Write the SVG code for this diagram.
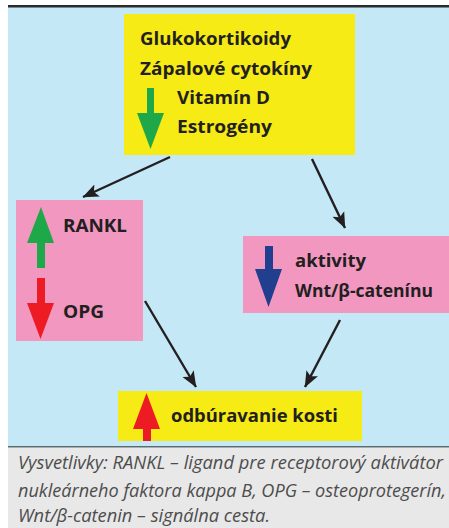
<svg xmlns="http://www.w3.org/2000/svg" width="449" height="528" viewBox="0 0 449 528">
<defs>
<style>
.t{font-family:"Open Sans","Liberation Sans",sans-serif;font-weight:bold;font-size:18px;fill:#231f20}
.c{font-family:"Open Sans","Liberation Sans",sans-serif;font-style:italic;font-weight:normal;font-size:17.5px;fill:#4d4d4d}
.ln{stroke:#231f20;stroke-width:2.4;fill:none}
.yel{fill:#f6eb14}
.pink{fill:#f197c0}
</style>
<marker id="ah" markerWidth="16" markerHeight="14" viewBox="0 0 16 14" refX="15.5" refY="7" orient="auto" markerUnits="userSpaceOnUse">
<path d="M0,0.5 L16,7 L0,13.5 L3.5,7 Z" fill="#231f20"/>
</marker>
</defs>
<rect x="0" y="0" width="449" height="528" fill="#ffffff"/>
<rect x="8" y="7" width="441" height="440" fill="#c5e8f7"/>
<rect x="8" y="5" width="441" height="2.5" fill="#2b2b2b"/>
<rect x="8" y="447.5" width="441" height="80.5" fill="#e8e8e8"/>
<rect x="8" y="446" width="441" height="1.5" fill="#5a6a72"/>

<g id="top">
<rect class="yel" x="124" y="14" width="231" height="141"/>
<text class="t" x="140" y="45" textLength="151" lengthAdjust="spacingAndGlyphs">Glukokortikoidy</text>
<text class="t" x="140" y="75" textLength="172" lengthAdjust="spacingAndGlyphs">Zápalové cytokíny</text>
<text class="t" x="177" y="104" textLength="93" lengthAdjust="spacingAndGlyphs">Vitamín D</text>
<text class="t" x="177" y="133" textLength="95" lengthAdjust="spacingAndGlyphs">Estrogény</text>
<path d="M147,88 H154 V113 H164 L150.5,149 L137,113 H147 Z" fill="#1fa84a"/>
</g>

<g id="rankl">
<rect class="pink" x="16" y="200" width="127" height="141"/>
<path d="M41,207 L54,243 H45 V268 H37 V243 H27 Z" fill="#1fa84a"/>
<text class="t" x="63" y="232" textLength="64" lengthAdjust="spacingAndGlyphs">RANKL</text>
<path d="M37,278 H45 V303 H54 L40.5,339 L27,303 H37 Z" fill="#ed1c24"/>
<text class="t" x="63" y="318" textLength="41" lengthAdjust="spacingAndGlyphs">OPG</text>
</g>

<g id="wnt">
<rect class="pink" x="243" y="236" width="206" height="77"/>
<path d="M265,246 H273 V269 H282 L268.5,307 L255,269 H265 Z" fill="#213f8e"/>
<text class="t" x="295" y="267" textLength="71" lengthAdjust="spacingAndGlyphs">aktivity</text>
<text class="t" x="295" y="297" textLength="138" lengthAdjust="spacingAndGlyphs">Wnt/β-catenínu</text>
</g>

<g id="resorption">
<rect class="yel" x="118" y="391" width="244" height="50"/>
<path d="M146.5,393 L160,429 H151 V441 H143 V429 H133 Z" fill="#ed1c24"/>
<text class="t" x="171" y="422" textLength="167" lengthAdjust="spacingAndGlyphs">odbúravanie kosti</text>
</g>

<g id="connectors">
<line class="ln" x1="170" y1="157" x2="83" y2="197" marker-end="url(#ah)"/>
<line class="ln" x1="312" y1="159" x2="345" y2="228" marker-end="url(#ah)"/>
<line class="ln" x1="145" y1="301" x2="196" y2="387" marker-end="url(#ah)"/>
<line class="ln" x1="340" y1="320" x2="305" y2="387" marker-end="url(#ah)"/>
</g>

<g id="caption">
<text class="c" x="18" y="469" textLength="425" lengthAdjust="spacingAndGlyphs">Vysvetlivky: RANKL – ligand pre receptorový aktivátor</text>
<text class="c" x="18" y="497" textLength="428" lengthAdjust="spacingAndGlyphs">nukleárneho faktora kappa B, OPG – osteoprotegerín,</text>
<text class="c" x="18" y="522" textLength="252" lengthAdjust="spacingAndGlyphs">Wnt/β-catenin – signálna cesta.</text>
</g>
</svg>
